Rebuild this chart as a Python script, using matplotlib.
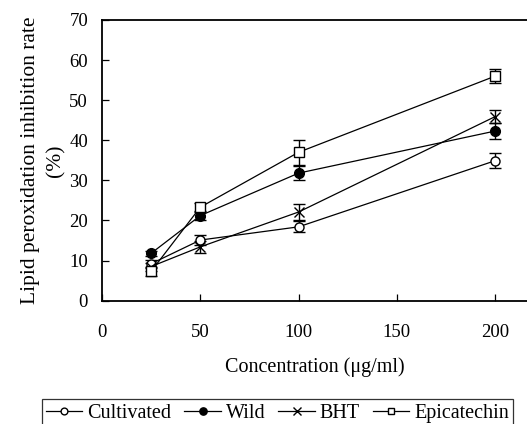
import matplotlib
matplotlib.use("Agg")
import matplotlib.pyplot as plt
from matplotlib.lines import Line2D

plt.rcParams['font.family'] = ['Liberation Serif', 'DejaVu Serif']
plt.rcParams['mathtext.fontset'] = 'stix'

conc = [25, 50, 100, 200]
series_names = ["Cultivated", "Wild", "BHT", "Epicatechin"]
cultivated = [9.2, 15.1, 18.4, 34.9]
cultivated_err = [1.0, 1.2, 1.4, 1.9]
wild = [11.8, 21.2, 31.8, 42.3]
wild_err = [0.6, 1.0, 1.8, 1.9]
bht = [8.5, 13.4, 22.1, 45.9]
bht_err = [1.0, 1.5, 2.0, 1.7]
epicatechin = [7.3, 23.3, 37.0, 56.0]
epicatechin_err = [1.2, 1.0, 3.1, 1.8]

x_ticks = [0, 50, 100, 150, 200]
y_ticks = [0, 10, 20, 30, 40, 50, 60, 70]

fig = plt.figure(figsize=(5.27, 4.24), dpi=100)
ax = fig.add_axes([102/527, 1-300.6/424, 1-102/527, (300.6-20)/424])

styles = [
    dict(marker='o', mfc='white', mec='black', ms=6.5, mew=1.0),
    dict(marker='o', mfc='black', mec='black', ms=7, mew=1.0),
    dict(marker='x', mfc='none', mec='black', ms=7, mew=1.0),
    dict(marker='s', mfc='white', mec='black', ms=6.5, mew=1.0),
]
data = [(cultivated, cultivated_err), (wild, wild_err), (bht, bht_err), (epicatechin, epicatechin_err)]

handles = []
for (vals, errs), st, name in zip(data, styles, series_names):
    ax.errorbar(conc, vals, yerr=errs, color='black', lw=0.9, elinewidth=1.0,
                capsize=4, capthick=1.0, **st)
    handles.append(Line2D([], [], color='black', lw=0.9,
                          **{k: (v * 0.75 if k == 'ms' else v) for k, v in st.items()}))

ax.set_xlim(0, 216.2)
ax.set_ylim(0, 70)
ax.set_xticks(x_ticks)
ax.set_yticks(y_ticks)
ax.tick_params(direction='in', length=5, width=0.9, labelsize=13.5, color='black')
ax.tick_params(axis='x', pad=17)
ax.tick_params(axis='y', pad=10)
ax.spines['right'].set_visible(False)
for s in ['top', 'left', 'bottom']:
    ax.spines[s].set_linewidth(1.3)

ax.set_xlabel("Concentration (μg/ml)", fontsize=14.5, labelpad=11.5)
ax.set_ylabel("Lipid peroxidation inhibition rate\n(%)", fontsize=15.5, labelpad=3,
              linespacing=1.4)

leg = fig.legend(handles, series_names, loc='center', ncol=4,
                 bbox_to_anchor=(277.5/527, 1-413/424), fontsize=14.5,
                 frameon=True, fancybox=False, edgecolor='black',
                 handlelength=1.8, handletextpad=0.25, columnspacing=0.65,
                 borderpad=0.2, borderaxespad=0)
leg.get_frame().set_linewidth(0.9)

fig.savefig("out.png", dpi=100)
